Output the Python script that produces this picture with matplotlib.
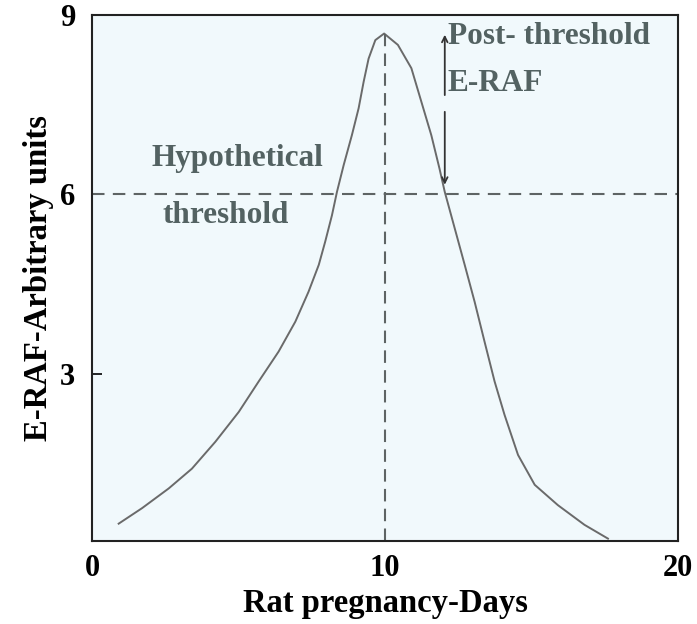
import matplotlib
matplotlib.use("Agg")
import matplotlib.pyplot as plt

# Data
days = [0.91, 1.71, 2.62, 3.41, 4.21, 5.01, 5.69, 6.37, 6.94, 7.39, 7.74, 7.96, 8.19,
        8.36, 8.59, 8.87, 9.10, 9.27, 9.44, 9.67, 9.97,
        10.44, 10.90, 11.24, 11.58, 11.86, 12.04, 12.38, 12.72, 13.06, 13.40, 13.74,
        14.08, 14.54, 15.11, 15.90, 16.81, 17.61]
erf = [0.49, 0.75, 1.08, 1.41, 1.86, 2.36, 2.87, 3.37, 3.87, 4.37, 4.82, 5.21, 5.65,
       6.04, 6.49, 6.99, 7.44, 7.88, 8.27, 8.58, 8.69,
       8.50, 8.11, 7.55, 6.99, 6.43, 6.04, 5.43, 4.82, 4.20, 3.53, 2.87,
       2.31, 1.64, 1.14, 0.80, 0.47, 0.24]
threshold = 6
peak_day = 10
peak_val = 8.69
arrow_day = 12.04
x_ticks = [0, 10, 20]
y_ticks = [3, 6, 9]

plt.rcParams['font.family'] = ['Liberation Serif', 'DejaVu Serif']
plt.rcParams['font.weight'] = 'bold'

fig = plt.figure(figsize=(6.97, 6.24), dpi=100)
ax = fig.add_axes([92/697, 1 - 541/624, 586/697, 526/624])
ax.set_facecolor('#f1f9fc')

ax.plot(days, erf, color='#6a6a6a', lw=1.4)
ax.axhline(threshold, color='#5e6464', lw=1.5, ls=(0, (6, 4)))
ax.plot([peak_day, peak_day], [0.2, peak_val], color='#5e6464', lw=1.5, ls=(0, (6, 3.5)))

txtc = '#536262'
ax.annotate('', xy=(arrow_day, 8.67), xytext=(arrow_day, 7.66),
            arrowprops=dict(arrowstyle='->', color='#333333', lw=1.3, shrinkA=0, shrinkB=0))
ax.annotate('', xy=(arrow_day, 6.16), xytext=(arrow_day, 7.38),
            arrowprops=dict(arrowstyle='->', color='#333333', lw=1.3, shrinkA=0, shrinkB=0))

ax.text(12.15, 8.64, 'Post- threshold', fontsize=22.5, color=txtc, fontweight='bold', va='center', ha='left')
ax.text(12.15, 7.86, 'E-RAF', fontsize=22.5, color=txtc, fontweight='bold', va='center', ha='left')
ax.text(4.95, 6.60, 'Hypothetical', fontsize=22.5, color=txtc, fontweight='bold', va='center', ha='center')
ax.text(4.55, 5.65, 'threshold', fontsize=22.5, color=txtc, fontweight='bold', va='center', ha='center')

ax.set_xlim(0, 20)
ax.set_ylim(0.2, 9)
ax.set_xticks(x_ticks)
ax.set_xticklabels([str(v) for v in x_ticks])
ax.set_yticks(y_ticks)
ax.set_yticklabels([str(v) for v in y_ticks])
ax.tick_params(axis='x', length=0, pad=9, labelsize=22)
ax.tick_params(axis='y', direction='in', length=7, width=1.2, pad=12, labelsize=22)
ax.set_xlabel('Rat pregnancy-Days', fontsize=23.5, fontweight='bold', labelpad=4)
ax.set_ylabel('E-RAF-Arbitrary units', fontsize=23.5, fontweight='bold', labelpad=4)
for s in ax.spines.values():
    s.set_linewidth(1.5)
    s.set_color('#222222')

fig.savefig('out.png', dpi=100, facecolor='white')
